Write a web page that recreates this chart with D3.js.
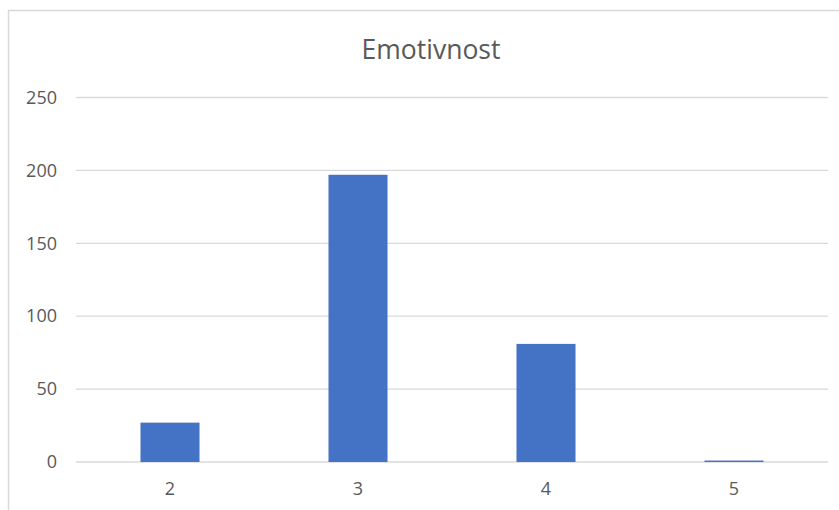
<!DOCTYPE html>
<html>
<head>
<meta charset="utf-8">
<script src="https://cdn.jsdelivr.net/npm/d3@7"></script>
<style>
  body { margin: 0; background: #fff; }
  text { font-family: "Open Sans", "Noto Sans", sans-serif; fill: #595959; }
</style>
</head>
<body>
<div class="chart"></div>
<script>
var svgWidth = 839;
var svgHeight = 510;

var categories = ["2", "3", "4", "5"];
var values = [27, 197, 81, 1];
var yTicks = [0, 50, 100, 150, 200, 250];
var chartTitle = "Emotivnost";

var margin = { top: 97.5, right: 11, bottom: 48, left: 76 };
var width = svgWidth - margin.left - margin.right;
var height = svgHeight - margin.top - margin.bottom;

var svg = d3.select(".chart")
  .append("svg")
  .attr("width", svgWidth)
  .attr("height", svgHeight);

// chart area border (runs off the right and bottom edges)
svg.append("rect")
  .attr("x", 8.5)
  .attr("y", 10.5)
  .attr("width", 900)
  .attr("height", 600)
  .attr("fill", "none")
  .attr("stroke", "#d9d9d9")
  .attr("stroke-width", 1.5);

var chart = svg.append("g")
  .attr("transform", "translate(" + margin.left + "," + margin.top + ")");

var xScale = d3.scaleBand()
  .domain(categories)
  .range([0, width])
  .paddingInner(0.686)
  .paddingOuter(0.343);

var yScale = d3.scaleLinear()
  .domain([0, 250])
  .range([height, 0]);

// gridlines
chart.selectAll(".grid")
  .data(yTicks)
  .enter().append("line")
    .attr("class", "grid")
    .attr("x1", 0)
    .attr("x2", width)
    .attr("y1", function(d) { return yScale(d); })
    .attr("y2", function(d) { return yScale(d); })
    .attr("stroke", "#d9d9d9")
    .attr("stroke-width", 1.3);

// y labels
var leftAxis = d3.axisLeft(yScale).tickValues(yTicks).tickSize(0).tickPadding(19);
var yAxisG = chart.append("g").call(leftAxis);
yAxisG.select(".domain").remove();
yAxisG.selectAll("text")
  .style("font-size", "18px")
  .attr("fill", "#595959");

// bars
chart.selectAll(".bar")
  .data(values)
  .enter().append("rect")
    .attr("class", "bar")
    .attr("x", function(d, i) { return xScale(categories[i]); })
    .attr("y", function(d) { return yScale(d); })
    .attr("width", xScale.bandwidth())
    .attr("height", function(d) { return height - yScale(d); })
    .attr("fill", "#4472c4");

// x labels
var bottomAxis = d3.axisBottom(xScale).tickSize(0).tickPadding(20);
var xAxisG = chart.append("g")
  .attr("transform", "translate(0," + height + ")")
  .call(bottomAxis);
xAxisG.select(".domain").remove();
xAxisG.selectAll("text")
  .style("font-size", "18px")
  .attr("fill", "#595959");

// title
svg.append("text")
  .attr("x", 431)
  .attr("y", 59)
  .attr("text-anchor", "middle")
  .style("font-size", "26.5px")
  .text(chartTitle);
</script>
</body>
</html>
